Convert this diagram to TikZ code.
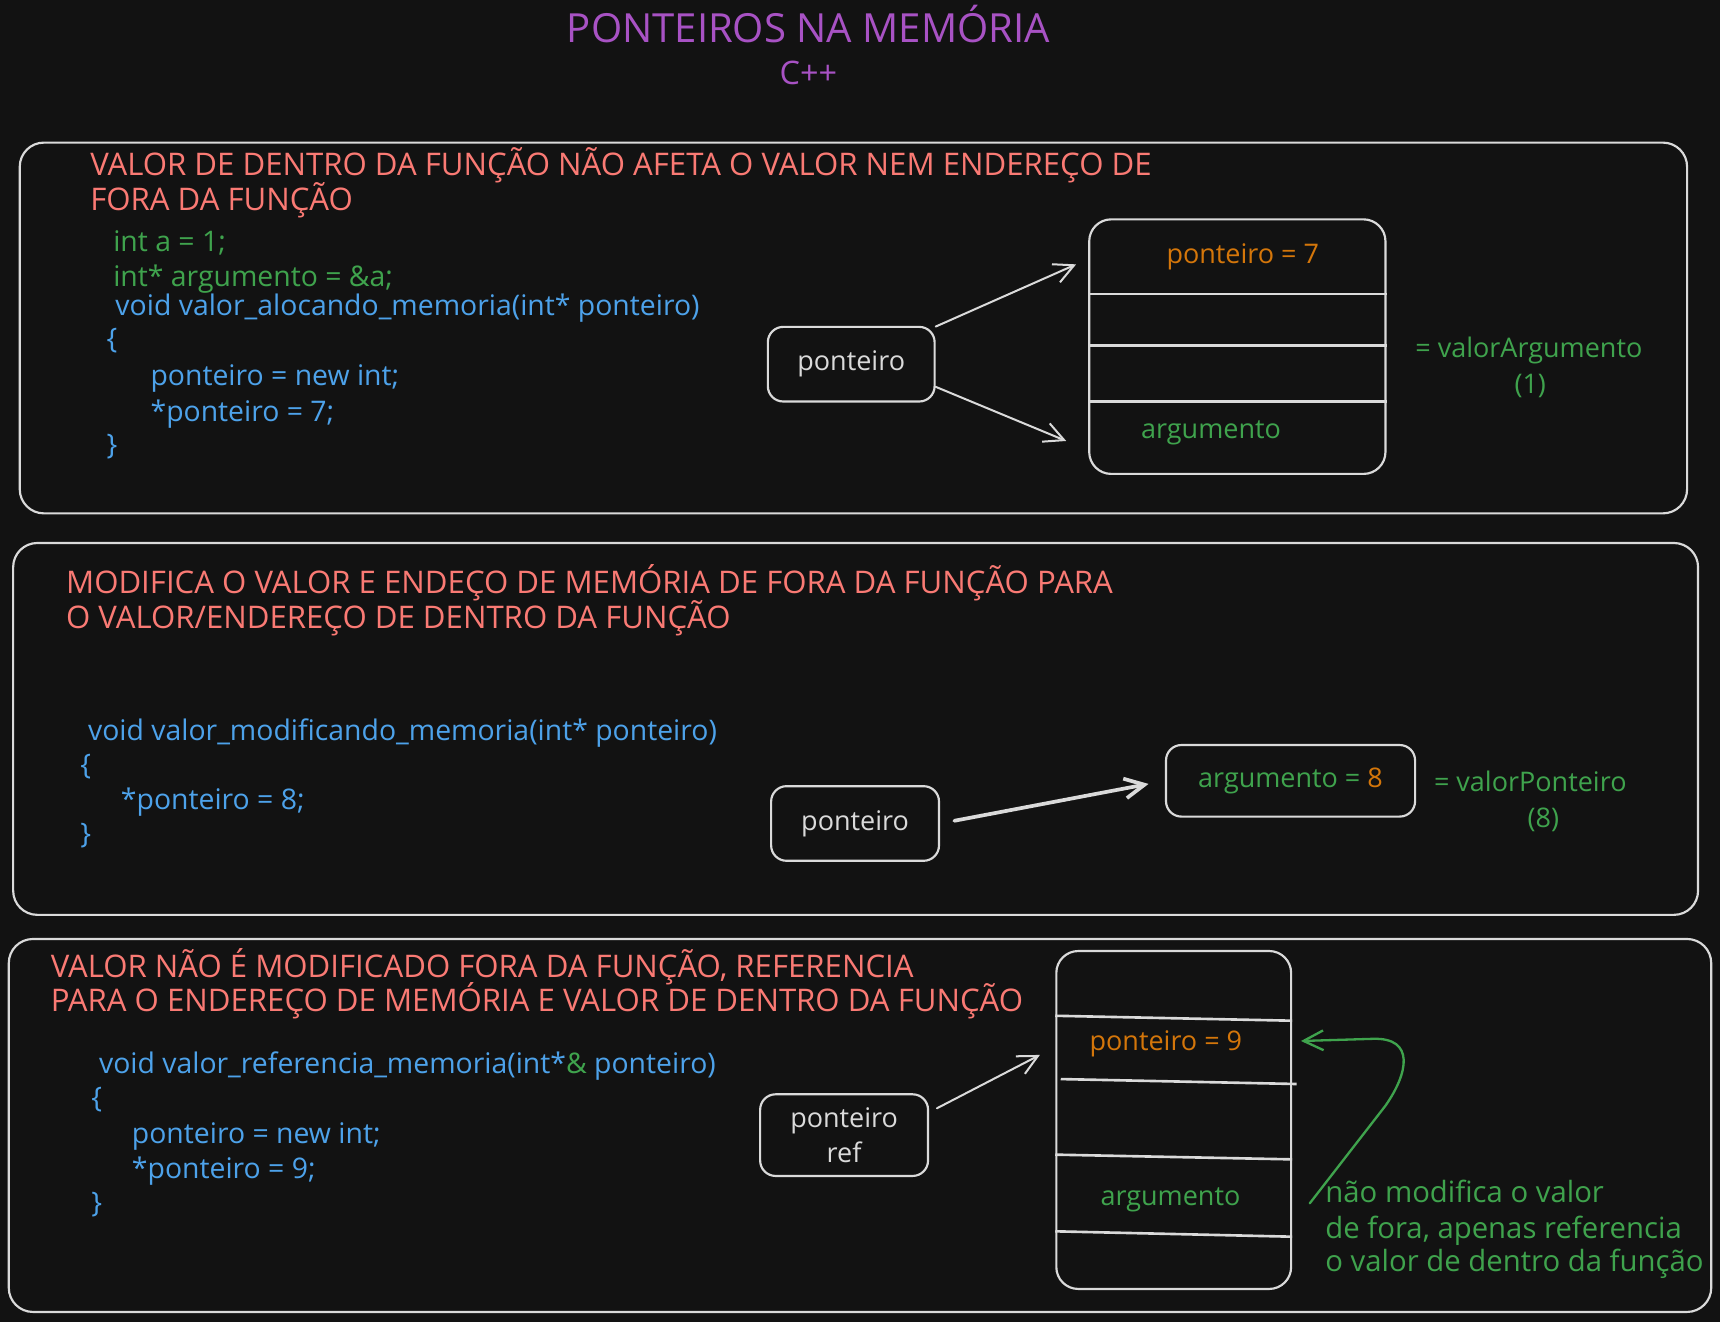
\documentclass[tikz,border=0pt]{standalone}
\usepackage{fontspec}
\setmainfont{Open Sans}
\usetikzlibrary{arrows.meta}
\definecolor{bg}{HTML}{121212}
\definecolor{wht}{HTML}{DADADA}
\definecolor{ttl}{HTML}{A852C4}
\definecolor{hdr}{HTML}{FA7A74}
\definecolor{grn}{HTML}{3FA34D}
\definecolor{blu}{HTML}{4DA2EA}
\definecolor{org}{HTML}{D4760A}
\tikzset{
  panel/.style={draw=wht, line width=1.4pt, rounded corners=0.55cm},
  rbox/.style={draw=wht, line width=1.4pt, rounded corners=0.35cm, inner sep=0pt},
  membox/.style={draw=wht, line width=1.4pt, rounded corners=0.5cm, inner sep=0pt},
  divider/.style={draw=wht, line width=1.7pt},
  arr/.style={draw=wht, line width=1.3pt, line cap=round,
    -{Straight Barb[length=0.45cm,width=0.45cm]}},
  hdline/.style={text=hdr, font=\fontsize{20.2}{24}\selectfont, anchor=base west, inner sep=0pt},
  srcline/.style={text=blu, font=\fontsize{18.4}{22}\selectfont, anchor=base west, inner sep=0pt},
  lbl/.style={font=\fontsize{17.5}{22.3}\selectfont, inner sep=0pt},
  note/.style={text=grn, font=\fontsize{19}{23}\selectfont, anchor=base west, inner sep=0pt},
}
\begin{document}
\begin{tikzpicture}[x=0.025cm, y=-0.025cm]
    \fill[bg] (0,0) rectangle (1568,1205);
    \node[lbl, text=ttl, font=\fontsize{26}{30}\selectfont, anchor=base] (title) at (737,38.5) {PONTEIROS NA MEMÓRIA};
    \node[lbl, text=ttl, font=\fontsize{21}{26}\selectfont, anchor=base] (lang) at (737,77) {C++};

    % valor alocando memoria
    \draw[panel] (18,130) rectangle (1538,468);
    \node[hdline] (h11) at (82,160) {VALOR DE DENTRO DA FUNÇÃO NÃO AFETA O VALOR NEM ENDEREÇO DE};
    \node[hdline] (h12) at (82,192) {FORA DA FUNÇÃO};
    \node[srcline, text=grn] (c11) at (103,229.6) {int a = 1;};
    \node[srcline, text=grn] (c12) at (103,261) {int* argumento = \&a;};
    \node[srcline] (c13) at (105,287.5) {void valor\_alocando\_memoria(int* ponteiro)};
    \node[srcline] (c14) at (97,318) {\{};
    \node[srcline] (c15) at (137,351) {ponteiro = new int;};
    \node[srcline] (c16) at (137,384) {*ponteiro = 7;};
    \node[srcline] (c17) at (97,414) {\}};
    \node[rbox, lbl, text=wht, minimum width=3.8cm, minimum height=1.7cm] (p1) at (776,332) {ponteiro};
    \node[membox, minimum width=6.75cm, minimum height=5.8cm] (mem1) at (1128,316) {};
    \draw[divider] (mem1.west |- 0,268) -- (mem1.east |- 0,268);
    \draw[divider] (mem1.west |- 0,315) -- (mem1.east |- 0,315);
    \draw[divider] (mem1.west |- 0,366) -- (mem1.east |- 0,366);
    \node[lbl, text=org, anchor=base] (v1) at (1133,240) {ponteiro = 7};
    \node[lbl, text=grn, anchor=base west] (g1) at (1040,400) {argumento};
    \node[lbl, text=grn, anchor=base west] (r11) at (1290,326) {= valorArgumento};
    \node[lbl, text=grn, anchor=base] (r12) at (1395,359) {(1)};
    \coordinate (t11) at (981,241);
    \coordinate (t12) at (972,402);
    \draw[arr] (p1.24) -- (t11);
    \draw[arr] (p1.-15) -- (t12);

    % valor modificando memoria
    \draw[panel] (12,495) rectangle (1548,834);
    \node[hdline] (h21) at (60,541) {MODIFICA O VALOR E ENDEÇO DE MEMÓRIA DE FORA DA FUNÇÃO PARA};
    \node[hdline] (h22) at (60,573) {O VALOR/ENDEREÇO DE DENTRO DA FUNÇÃO};
    \node[srcline] (c21) at (80,674.6) {void valor\_modificando\_memoria(int* ponteiro)};
    \node[srcline] (c22) at (73,706) {\{};
    \node[srcline] (c23) at (110,737.8) {*ponteiro = 8;};
    \node[srcline] (c24) at (73,769) {\}};
    \node[rbox, lbl, text=wht, minimum width=3.825cm, minimum height=1.7cm] (p2) at (779.5,750.7) {ponteiro};
    \node[rbox, lbl, minimum width=5.675cm, minimum height=1.63cm] (a2) at (1176.5,711.8)
        {\textcolor{grn}{argumento =} \textcolor{org}{8}};
    \node[lbl, text=grn, anchor=base west] (r21) at (1307,721.7) {= valorPonteiro};
    \node[lbl, text=grn, anchor=base] (r22) at (1407,754.5) {(8)};
    \draw[arr, line width=2.4pt, shorten <=0.33cm, shorten >=0.38cm] (p2.east) -- (a2.west);

    % valor referencia memoria
    \draw[panel] (8,856) rectangle (1560,1196);
    \node[hdline] (h31) at (46,891) {VALOR NÃO É MODIFICADO FORA DA FUNÇÃO, REFERENCIA};
    \node[hdline] (h32) at (46,922) {PARA O ENDEREÇO DE MEMÓRIA E VALOR DE DENTRO DA FUNÇÃO};
    \node[srcline] (c31) at (90,978.5) {void valor\_referencia\_memoria(int*\textcolor{grn}{\&} ponteiro)};
    \node[srcline] (c32) at (83,1010) {\{};
    \node[srcline] (c33) at (120,1042.3) {ponteiro = new int;};
    \node[srcline] (c34) at (120,1074.2) {*ponteiro = 9;};
    \node[srcline] (c35) at (83,1105.5) {\}};
    \node[rbox, lbl, text=wht, align=center, minimum width=3.825cm, minimum height=1.86cm] (p3) at (769.5,1034.8) {ponteiro\\ref};
    \node[membox, minimum width=5.35cm, minimum height=7.7cm] (mem3) at (1070,1021) {};
    \draw[divider] (mem3.west |- 0,926) -- (mem3.east |- 0,930.5);
    \draw[divider] (967,983.7) -- (1182,988.2);
    \draw[divider] (mem3.west |- 0,1052.6) -- (mem3.east |- 0,1056.9);
    \draw[divider] (mem3.west |- 0,1122.5) -- (mem3.east |- 0,1127.4);
    \node[lbl, text=org, anchor=base west] (v3) at (993,957.2) {ponteiro = 9};
    \node[lbl, text=grn, anchor=base west] (g3) at (1003,1098.5) {argumento};
    \node[note] (n31) at (1208,1096.4) {não modifica o valor};
    \node[note] (n32) at (1208,1128.9) {de fora, apenas referencia};
    \node[note] (n33) at (1208,1159.3) {o valor de dentro da função};
    \coordinate (t3) at (948,961.7);
    \coordinate (s3) at (1194,1097);
    \coordinate (e3) at (1186,949);
    \draw[arr, shorten <=0.2cm] (p3.15) -- (t3);
    \draw[arr, draw=grn, line width=1.5pt] (s3) -- (1263,1008)
        .. controls (1284,978) and (1290,946) .. (1252,947) -- (e3);
\end{tikzpicture}
\end{document}
